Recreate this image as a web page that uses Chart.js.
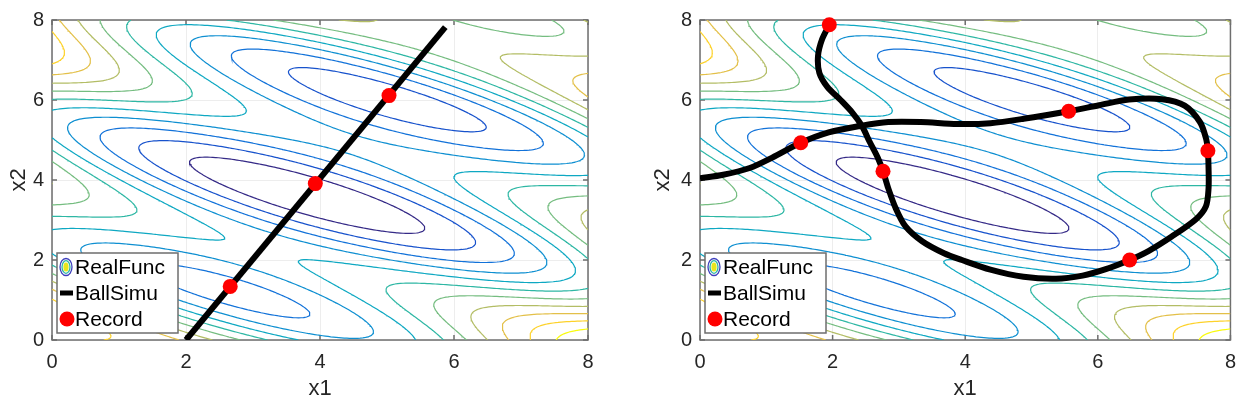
<!DOCTYPE html>
<html>
<head>
<meta charset="utf-8">
<script src="https://cdn.jsdelivr.net/npm/chart.js@4.4.1/dist/chart.umd.min.js"></script>
<style>
  body { margin: 0; background: #fff; }
  .panel { position: absolute; top: 0; width: 623px; height: 408px; }
</style>
</head>
<body>
<div class="panel" style="left:0"><canvas id="plot_line"></canvas></div>
<div class="panel" style="left:623px"><canvas id="plot_curve"></canvas></div>
<script>
// ---------- dati ----------
var axisTicks = [0, 2, 4, 6, 8];
var legendLabels = ["RealFunc", "BallSimu", "Record"];

// RealFunc: bowl + wave, contour levels
var contourLevels = [-0.5, 0, 0.5, 1, 1.5, 2, 2.5, 3, 3.5, 4, 4.5];
var funcCenter = [4, 4];
var funcBowl = 0.125;
var funcWave = [1, 2];

// left panel: straight path
var ballLineX1 = [2.0, 5.87];
var ballLineX2 = [0.0, 7.82];
var recordLineX1 = [2.66, 3.93, 5.03];
var recordLineX2 = [1.34, 3.91, 6.11];

// right panel: curved path
var ballCurveX1 = [1.95, 1.84, 1.78, 1.80, 1.92, 2.12, 2.30, 2.44, 2.56, 2.68, 2.76, 2.84, 2.95, 3.10, 3.35, 3.68, 3.95,
  4.38, 4.88, 5.37, 5.77, 6.12, 6.48, 6.77, 7.11, 7.48, 7.63, 7.67, 7.67, 7.66, 7.63, 7.54, 7.31, 6.97, 6.47, 6.02, 5.56,
  4.88, 4.38, 3.88, 3.33, 2.84, 2.44, 1.94, 1.52, 1.09, 0.75, 0.35, 0];
var ballCurveX2 = [7.88, 7.51, 7.10, 6.68, 6.33, 6.00, 5.68, 5.36, 4.95, 4.56, 4.22, 3.79, 3.30, 2.84, 2.47, 2.17, 2.00,
  1.76, 1.58, 1.53, 1.61, 1.77, 2.00, 2.23, 2.58, 3.02, 3.34, 3.79, 4.29, 4.73, 5.05, 5.45, 5.86, 6.02, 6.01, 5.87, 5.72,
  5.53, 5.42, 5.40, 5.45, 5.45, 5.36, 5.19, 4.93, 4.56, 4.30, 4.13, 4.04];
var recordCurveX1 = [1.95, 2.76, 6.48, 7.66, 5.56, 1.52];
var recordCurveX2 = [7.88, 4.22, 2.00, 4.73, 5.72, 4.93];

var parula = ["#352a87", "#0f5cdd", "#1481d6", "#06a4ca", "#2eb7a4", "#87bf77", "#d1bb59", "#fec832", "#f9fb0e"];

Chart.defaults.font.family = "'Liberation Sans', Arial, Helvetica, sans-serif";
Chart.defaults.animation = false;

//funzione della superficie
function realFunc(x1, x2) {
  var dx = x1 - funcCenter[0];
  var dy = x2 - funcCenter[1];
  return funcBowl * (dx * dx + dy * dy) + Math.sin(funcWave[0] * x1 + funcWave[1] * x2);
}

//colore parula per t in [0,1]
function parulaColor(t) {
  var p = t * (parula.length - 1);
  var i = Math.min(Math.floor(p), parula.length - 2);
  var f = p - i;
  var a = parula[i], b = parula[i + 1];
  var c = [1, 3, 5].map(function(k) {
    var va = parseInt(a.substr(k, 2), 16), vb = parseInt(b.substr(k, 2), 16);
    return Math.round(va + (vb - va) * f);
  });
  return "rgb(" + c.join(",") + ")";
}

// marching squares -> polylines (punti separati da null)
var gridN = 200;
var gridStep = 8 / gridN;
var gridVals = [];
for (var gi = 0; gi <= gridN; gi++) {
  for (var gj = 0; gj <= gridN; gj++) {
    gridVals.push(realFunc(gi * gridStep, gj * gridStep));
  }
}

function contourData(level) {
  var n1 = gridN + 1;
  var pts = {}, links = {};
  function val(i, j) { return gridVals[i * n1 + j]; }
  function hId(i, j) { return (i * n1 + j) * 2; }
  function vId(i, j) { return (i * n1 + j) * 2 + 1; }
  function addPt(id, i0, j0, i1, j1) {
    if (pts[id]) return;
    var va = val(i0, j0), vb = val(i1, j1);
    var t = (level - va) / (vb - va);
    pts[id] = { x: (i0 + t * (i1 - i0)) * gridStep, y: (j0 + t * (j1 - j0)) * gridStep };
  }
  function link(a, b) {
    (links[a] = links[a] || []).push(b);
    (links[b] = links[b] || []).push(a);
  }
  for (var i = 0; i < gridN; i++) {
    for (var j = 0; j < gridN; j++) {
      var a = val(i, j) > level, b = val(i + 1, j) > level;
      var c = val(i + 1, j + 1) > level, d = val(i, j + 1) > level;
      var edges = [];
      if (a !== b) { addPt(hId(i, j), i, j, i + 1, j); edges.push(hId(i, j)); }
      if (b !== c) { addPt(vId(i + 1, j), i + 1, j, i + 1, j + 1); edges.push(vId(i + 1, j)); }
      if (d !== c) { addPt(hId(i, j + 1), i, j + 1, i + 1, j + 1); edges.push(hId(i, j + 1)); }
      if (a !== d) { addPt(vId(i, j), i, j, i, j + 1); edges.push(vId(i, j)); }
      if (edges.length === 2) {
        link(edges[0], edges[1]);
      } else if (edges.length === 4) {
        var centre = (val(i, j) + val(i + 1, j) + val(i + 1, j + 1) + val(i, j + 1)) / 4 > level;
        if (centre === a) { link(edges[0], edges[1]); link(edges[2], edges[3]); }
        else { link(edges[0], edges[3]); link(edges[1], edges[2]); }
      }
    }
  }
  var visited = {}, data = [];
  function walk(start) {
    var prev = null, cur = start;
    while (cur !== undefined) {
      data.push(pts[cur]);
      visited[cur] = true;
      var next = undefined;
      (links[cur] || []).forEach(function(nb) {
        if (next === undefined && nb !== prev && !visited[nb]) next = nb;
      });
      if (next === undefined && prev !== null && (links[cur] || []).indexOf(start) >= 0) {
        data.push(pts[start]);
      }
      prev = cur;
      cur = next;
    }
    data.push({ x: null, y: null });
  }
  var ids = Object.keys(links);
  ids.forEach(function(id) { if (!visited[id] && links[id].length === 1) walk(+id); });
  ids.forEach(function(id) { if (!visited[id]) walk(+id); });
  return data;
}

var contourSets = contourLevels.map(function(level, k) {
  return {
    label: "RealFunc " + level,
    data: contourData(level),
    showLine: true,
    borderColor: parulaColor(k / (contourLevels.length - 1)),
    borderWidth: 1.2,
    pointRadius: 0,
    spanGaps: false,
    order: 2
  };
});

function zipPoints(xs, ys) {
  return xs.map(function(x, i) { return { x: x, y: ys[i] }; });
}

// box con tacche interne (stile matlab)
var axesBox = {
  id: "axesBox",
  beforeDatasetsDraw: function(chart) {
    var ctx = chart.ctx, a = chart.chartArea;
    var xs = chart.scales.x, ys = chart.scales.y;
    ctx.save();
    ctx.strokeStyle = "#6e6e6e";
    ctx.lineWidth = 1.5;
    ctx.strokeRect(a.left, a.top, a.right - a.left, a.bottom - a.top);
    ctx.beginPath();
    axisTicks.forEach(function(v) {
      var px = xs.getPixelForValue(v), py = ys.getPixelForValue(v);
      ctx.moveTo(px, a.bottom); ctx.lineTo(px, a.bottom - 5);
      ctx.moveTo(px, a.top); ctx.lineTo(px, a.top + 5);
      ctx.moveTo(a.left, py); ctx.lineTo(a.left + 5, py);
      ctx.moveTo(a.right, py); ctx.lineTo(a.right - 5, py);
    });
    ctx.stroke();
    ctx.restore();
  }
};

// legenda dentro il grafico
var boxLegend = {
  id: "boxLegend",
  afterDraw: function(chart) {
    var ctx = chart.ctx, l = chart.chartArea.left;
    var top = 253, bottom = 333;
    ctx.save();
    ctx.fillStyle = "#fff";
    ctx.fillRect(l + 5, top, 121, bottom - top);
    ctx.strokeStyle = "#6e6e6e";
    ctx.lineWidth = 1.5;
    ctx.strokeRect(l + 5, top, 121, bottom - top);

    // icona RealFunc
    var cx = l + 14, cy = 267;
    ctx.lineWidth = 1.3;
    ctx.beginPath(); ctx.ellipse(cx, cy, 6, 8.5, 0, 0, 2 * Math.PI);
    ctx.fillStyle = "#fff"; ctx.fill();
    ctx.strokeStyle = "#3d3fbd"; ctx.stroke();
    ctx.beginPath(); ctx.ellipse(cx, cy, 4, 6.3, 0, 0, 2 * Math.PI);
    ctx.strokeStyle = "#2eb7a4"; ctx.stroke();
    ctx.beginPath(); ctx.ellipse(cx, cy, 2.6, 4.6, 0, 0, 2 * Math.PI);
    ctx.fillStyle = "#e8e61c"; ctx.fill();

    // icona BallSimu
    ctx.strokeStyle = "#000";
    ctx.lineWidth = 5;
    ctx.beginPath(); ctx.moveTo(l + 8, 293); ctx.lineTo(l + 21, 293); ctx.stroke();

    // icona Record
    ctx.fillStyle = "#ff0000";
    ctx.beginPath(); ctx.arc(l + 15, 319, 7.5, 0, 2 * Math.PI); ctx.fill();

    ctx.fillStyle = "#000";
    ctx.font = "21px 'Liberation Sans', Arial, sans-serif";
    ctx.textBaseline = "middle";
    ctx.textAlign = "left";
    ctx.fillText(legendLabels[0], l + 23, 268);
    ctx.fillText(legendLabels[1], l + 23, 294);
    ctx.fillText(legendLabels[2], l + 23, 320);
    ctx.restore();
  }
};

function setTicks(axis) {
  axis.ticks = axisTicks.map(function(v) { return { value: v }; });
}

function makeChart(id, ballX1, ballX2, recX1, recX2, yAxisWidth, rightPad, yTitlePad, ballTension) {
  var datasets = [
    {
      label: legendLabels[2],
      data: zipPoints(recX1, recX2),
      showLine: false,
      pointRadius: 7.5,
      pointBackgroundColor: "#ff0000",
      pointBorderWidth: 0,
      clip: false,
      order: 0
    },
    {
      label: legendLabels[1],
      data: zipPoints(ballX1, ballX2),
      showLine: true,
      borderColor: "#000",
      borderWidth: 6,
      borderJoinStyle: "round",
      pointRadius: 0,
      tension: ballTension,
      order: 1
    }
  ].concat(contourSets);

  return new Chart(document.getElementById(id), {
    type: "scatter",
    data: { datasets: datasets },
    options: {
      responsive: true,
      maintainAspectRatio: false,
      events: [],
      layout: { padding: { left: 0, right: rightPad, top: 17, bottom: 0 } },
      plugins: { legend: { display: false }, tooltip: { enabled: false } },
      scales: {
        x: {
          type: "linear", min: 0, max: 8,
          afterBuildTicks: setTicks,
          afterFit: function(s) { s.height = 68; },
          grid: { color: "rgba(0,0,0,0.07)", drawTicks: false },
          border: { display: false },
          ticks: { color: "#262626", font: { size: 20 }, padding: 10, maxRotation: 0 },
          title: { display: true, text: "x1", color: "#262626", font: { size: 22 }, padding: { top: 0, bottom: 6 } }
        },
        y: {
          type: "linear", min: 0, max: 8,
          afterBuildTicks: setTicks,
          afterFit: function(s) { s.width = yAxisWidth; },
          grid: { color: "rgba(0,0,0,0.07)", drawTicks: false },
          border: { display: false },
          ticks: { color: "#262626", font: { size: 20 }, padding: 8 },
          title: { display: true, text: "x2", color: "#262626", font: { size: 22 }, padding: { top: yTitlePad, bottom: 0 } }
        }
      }
    },
    plugins: [axesBox, boxLegend]
  });
}

var chartLine = makeChart("plot_line", ballLineX1, ballLineX2, recordLineX1, recordLineX2, 52, 35, 6, 0);
var chartCurve = makeChart("plot_curve", ballCurveX1, ballCurveX2, recordCurveX1, recordCurveX2, 77, 11, 27, 0.3);
</script>
</body>
</html>
